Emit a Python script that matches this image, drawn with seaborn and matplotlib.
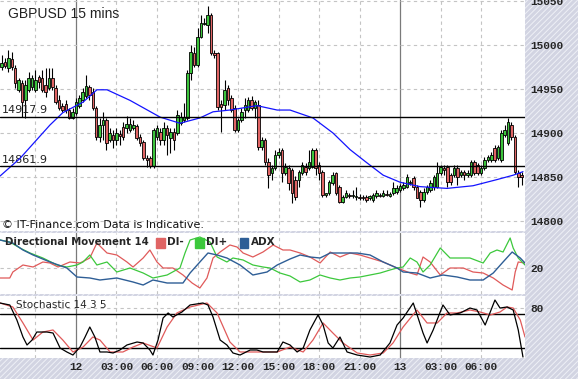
import numpy as np
import pandas as pd
import matplotlib
matplotlib.use("Agg")
import matplotlib.pyplot as plt
import seaborn as sns
from matplotlib.patches import Rectangle

sns.set_theme(style="white")
plt.rcParams['font.family'] = ['DejaVu Sans']
plt.rcParams['hatch.linewidth'] = 0.7

# 15-minute bars, counted from 00:00 on the 12th
first_bar = -22
opens = [14975, 14981, 14974, 14984, 14974, 14949, 14957, 14937, 14949, 14952, 14949, 14964, 14962, 14954, 14951, 14962,
         14951, 14937, 14931, 14933, 14926, 14917,
         14923, 14931, 14937, 14942, 14952, 14946, 14928, 14895, 14909, 14915, 14892, 14898,
         14892, 14899, 14907, 14906, 14903, 14906, 14908, 14895, 14890, 14872, 14872, 14862,
         14895, 14901, 14892, 14906, 14894, 14901, 14900, 14911, 14915, 14917, 14968, 14991,
         14977, 15009, 15024, 15023, 15034, 14991, 14991, 14933, 14932, 14951, 14940, 14928,
         14903, 14915, 14926, 14926, 14937, 14928, 14932, 14884, 14892, 14867, 14854, 14860,
         14875, 14881, 14854, 14860, 14858, 14847, 14847, 14854, 14861, 14860, 14861, 14881,
         14864, 14856, 14830, 14832, 14843, 14854, 14839, 14822, 14827, 14830, 14828, 14827,
         14827, 14827, 14827, 14826, 14824, 14828, 14830, 14828, 14831, 14828, 14832, 14833,
         14835, 14837, 14839, 14843, 14849, 14839, 14833, 14824, 14833, 14835, 14839, 14839,
         14854, 14860, 14861, 14852, 14852, 14860, 14852, 14856, 14852, 14852, 14867, 14864,
         14854, 14860, 14869, 14869, 14883, 14872, 14869, 14898, 14889, 14909, 14895, 14854, 14852]
closes = [14979, 14976, 14985, 14975, 14957, 14960, 14935, 14954, 14962, 14962, 14960, 14958, 14949, 14946, 14962, 14952,
          14935, 14928, 14926, 14926, 14917, 14924,
          14935, 14940, 14946, 14953, 14943, 14928, 14895, 14909, 14915, 14889, 14900, 14892,
          14900, 14896, 14895, 14910, 14910, 14909, 14894, 14889, 14872, 14869, 14862, 14903,
          14906, 14892, 14906, 14898, 14901, 14892, 14920, 14918, 14918, 14968, 14992, 14977,
          15009, 15025, 15025, 15034, 14991, 14989, 14929, 14929, 14949, 14937, 14926, 14903,
          14915, 14924, 14932, 14937, 14928, 14935, 14884, 14892, 14867, 14852, 14860, 14875,
          14878, 14854, 14861, 14843, 14832, 14827, 14856, 14864, 14856, 14867, 14881, 14860,
          14854, 14830, 14832, 14844, 14852, 14832, 14822, 14827, 14832, 14828, 14830, 14828,
          14826, 14826, 14824, 14828, 14830, 14832, 14828, 14832, 14830, 14831, 14837, 14837,
          14840, 14841, 14850, 14844, 14839, 14826, 14824, 14833, 14839, 14843, 14850, 14854,
          14861, 14858, 14844, 14844, 14860, 14850, 14856, 14852, 14854, 14867, 14854, 14854,
          14860, 14869, 14873, 14875, 14869, 14884, 14900, 14903, 14912, 14895, 14856, 14850, 14850]
highs = [14989, 14985, 14994, 14992, 14977, 14962, 14960, 14960, 14969, 14966, 14971, 14966, 14971, 14974, 14974, 14974,
         14954, 14943, 14934, 14937, 14928, 14928,
         14940, 14943, 14951, 14966, 14954, 14951, 14931, 14917, 14924, 14917, 14906, 14903,
         14906, 14903, 14912, 14919, 14917, 14915, 14910, 14899, 14892, 14875, 14874, 14906,
         14909, 14906, 14912, 14909, 14906, 14906, 14926, 14924, 14934, 14971, 15000, 14998,
         15019, 15034, 15031, 15044, 15036, 14994, 14992, 14937, 14960, 14954, 14943, 14932,
         14917, 14928, 14940, 14941, 14942, 14937, 14937, 14895, 14894, 14872, 14864, 14881,
         14883, 14883, 14866, 14864, 14860, 14851, 14858, 14867, 14866, 14881, 14883, 14883,
         14867, 14858, 14832, 14847, 14856, 14856, 14841, 14830, 14835, 14832, 14835, 14839,
         14831, 14830, 14830, 14830, 14832, 14835, 14832, 14835, 14835, 14833, 14844, 14841,
         14842, 14844, 14853, 14847, 14851, 14841, 14835, 14837, 14841, 14847, 14852, 14867,
         14864, 14864, 14864, 14854, 14864, 14864, 14858, 14858, 14858, 14869, 14869, 14866,
         14864, 14873, 14875, 14878, 14886, 14886, 14903, 14909, 14917, 14912, 14898, 14858, 14856]
lows = [14971, 14974, 14969, 14971, 14951, 14946, 14918, 14917, 14946, 14949, 14946, 14951, 14946, 14941, 14949, 14949,
        14933, 14926, 14924, 14923, 14916, 14916,
        14920, 14928, 14935, 14940, 14937, 14926, 14892, 14890, 14892, 14881, 14890, 14883,
        14886, 14886, 14892, 14900, 14901, 14903, 14892, 14885, 14869, 14861, 14860, 14860,
        14892, 14886, 14886, 14875, 14877, 14881, 14898, 14909, 14912, 14915, 14960, 14975,
        14975, 15008, 15023, 15014, 14989, 14985, 14926, 14901, 14926, 14932, 14924, 14901,
        14901, 14912, 14917, 14924, 14926, 14917, 14881, 14881, 14864, 14837, 14847, 14858,
        14872, 14844, 14852, 14835, 14820, 14824, 14839, 14852, 14852, 14858, 14860, 14852,
        14847, 14827, 14827, 14830, 14841, 14830, 14820, 14820, 14826, 14826, 14826, 14824,
        14824, 14824, 14822, 14824, 14822, 14826, 14827, 14827, 14828, 14827, 14830, 14831,
        14833, 14835, 14837, 14841, 14835, 14826, 14816, 14822, 14831, 14833, 14835, 14837,
        14852, 14852, 14839, 14841, 14850, 14841, 14850, 14847, 14850, 14850, 14852, 14852,
        14852, 14858, 14867, 14867, 14867, 14869, 14867, 14895, 14886, 14892, 14853, 14839, 14841]

ma_bars = [-22.5, -16.6, -7.7, -3.9, 2.1, 6.2, 9.2, 16, 24.9, 30.8, 36.7, 40.6, 45.6, 53.6, 59.6,
           63.4, 70.2, 76.1, 81.2, 86.2, 91, 96, 101.9, 109.9, 117.6, 124.7, 129.5, 132.4]
ma_values = [14851, 14871, 14909, 14923, 14935, 14949, 14949, 14937, 14918, 14911, 14917, 14924, 14926, 14931, 14926,
             14926, 14917, 14900, 14881, 14866, 14852, 14844, 14839, 14837, 14840, 14847, 14852, 14856]

level_high = 14917.9
level_low = 14861.9

dim_bars = [-22.5, -19.6, -18.7, -15.7, -12.7, -9.8, -7.7, -5.3, -1.8, 1.2, 4.1, 6.2, 9.2, 12.1, 15.1, 16.9, 19.9, 21.9, 24, 25.8,
            28.7, 31.7, 34.4, 36.7, 38.8, 40.6, 42.7, 45.6, 47.7, 49.5, 52.4, 55.4, 58.4, 61.3, 63.4, 66.4, 69.3, 72.3, 75.3,
            78.2, 81.2, 84.1, 87.1, 91, 95.1, 99, 101, 102.8, 104.9, 107.9, 110.8, 114.7, 117.6, 120.6, 123.6, 126.5, 129.2,
            130.1, 131, 133]
dim_values = [16, 16, 18.4, 21.2, 20.4, 22.4, 22, 20.4, 22.4, 22, 24, 30, 26, 25.2, 22.4, 20.4, 24, 27.2, 22.4, 20,
              20, 17.2, 14, 12, 16, 24, 26.4, 29.2, 28.4, 26, 24.4, 26.4, 29.2, 27.2, 27.2, 26, 24.4, 22, 26.4,
              24.4, 26, 25.2, 24, 22.4, 20, 18, 17.2, 24.4, 22.4, 17.2, 20, 20, 18.4, 18, 16, 13.2, 11.2,
              18.4, 22.4, 22]

dip_bars = [-22.5, -19.6, -16.6, -13.6, -9.8, -5.6, -2.7, 0.3, 2.1, 4.1, 6.2, 9.2, 12.1, 16, 19.9, 22.8, 27, 30.8, 32.3,
            33.8, 36.7, 39.7, 41.8, 44.7, 46.5, 49.5, 52.4, 55.4, 57.5, 60.4, 63.4, 66.4, 69.3, 72.3, 75.3, 78.2, 81.2,
            84.1, 87.1, 90.1, 93, 95.1, 96.9, 99, 101, 102.8, 104.9, 107.9, 110.8, 113.8, 116.7, 120.6, 122.7, 124.7,
            126.5, 128.6, 129.5, 131, 133]
dip_values = [31.2, 30.4, 28, 26, 24, 21.2, 20.4, 21.2, 22.4, 25.2, 21.2, 22.4, 18.4, 20, 18, 16, 17.2, 20, 26,
              31.2, 32.4, 30.4, 24.4, 22.4, 24, 23.2, 21.2, 20.4, 20, 18, 16.8, 14.4, 15.2, 17.2, 16, 15.2, 16,
              16.4, 17.2, 18, 19.2, 20, 20.4, 24, 22.4, 18.4, 21.2, 28, 24, 24, 24, 22, 26, 27.2,
              26.4, 32, 28, 24, 21.2]

adx_bars = [-22.5, -18.7, -15.7, -12.7, -7.7, -2.7, 0.3, 4.1, 7.1, 12.1, 16.9, 19.9, 22.8, 27, 31.7, 33.8, 36.7, 39.1,
            41.8, 44.7, 48.6, 52.4, 56.6, 59.6, 63.4, 66.4, 69.3, 72.3, 75.3, 79.1, 83.3, 87.1, 91, 95.1, 96.9, 101,
            104.9, 108.7, 112.9, 116.7, 120.6, 123.6, 126.5, 129.2, 131.6, 133]
adx_values = [31.2, 30, 27.2, 25.2, 22.4, 20, 16.4, 16, 15.2, 16, 14.4, 13.2, 15.2, 14, 14, 18, 22.4, 26,
              25.2, 24, 21.2, 17.2, 18.4, 21.2, 23.6, 25.2, 24.4, 24, 26, 26, 26, 25.2, 22.4, 20, 18.4, 18,
              16, 17.2, 16.4, 15.2, 15.2, 18, 22.4, 26.4, 24, 22]

k_bars = [-22.5, -19.6, -17.5, -15.7, -14.5, -13, -11.6, -8.6, -6.8, -4.7, -2.7, -0.9, 1.2, 2.7, 4.1, 5.6, 7.1, 9.2, 11,
          13, 15.1, 18.1, 19.9, 21.9, 22.8, 24.3, 25.8, 27.3, 28.7, 31.4, 33.8, 37.6, 39.1, 40.6, 42.7, 44.7, 46.5,
          48.6, 51.6, 53.6, 55.4, 59.6, 61.3, 63.4, 65.5, 67.3, 69.3, 71.7, 73.2, 74.7, 76.1, 78.2, 80.3, 83.3, 87.1,
          90.1, 93, 95.1, 96.9, 99.9, 102.8, 104, 105.8, 108.7, 110.8, 113.8, 116.7, 118.8, 121.2, 124.1, 125.6,
          127.7, 129.5, 131, 132.4]
k_values = [88.7, 85.5, 61.3, 33.9, 21, 29, 41.9, 41.9, 40.3, 16.1, 9.7, 4.8, 17.7, 33.9, 50, 33.9, 9.7, 9.7, 8.1,
            12.9, 21, 25.8, 24.2, 12.9, 4.8, 29, 64.5, 72.6, 66.1, 74.2, 85.5, 88.7, 85.5, 66.1, 29, 21, 8.1,
            4.8, 12.9, 12.9, 9.7, 9.7, 25.8, 21, 9.7, 16.1, 45.2, 69.4, 53.2, 24.2, 16.1, 33.9, 9.7, 4.8, 1.6,
            4.8, 24.2, 53.2, 64.5, 88.7, 40.3, 24.2, 45.2, 85.5, 69.4, 72.6, 80.6, 77.4, 53.2, 93.5, 80.6,
            82.3, 77.4, 45.2, 1.6]

d_bars = [-22.5, -18.7, -15.7, -12.7, -9.8, -6.8, -3.9, -0.9, 2.1, 5, 7.1, 10.1, 13.9, 16.9, 19.9, 24, 27, 29.9, 33.8,
          38.8, 41.8, 45.6, 48.6, 52.4, 56.6, 59.6, 63.4, 67.3, 70.2, 73.2, 76.1, 79.1, 83.3, 87.1, 91, 93.9, 96.9,
          101, 104, 107, 109.9, 112.9, 116.7, 119.7, 122.7, 125.6, 127.7, 129.5, 131.6, 133]
d_values = [88.7, 82.3, 56.5, 29, 41.9, 45.2, 29, 9.7, 17.7, 33.9, 29, 9.7, 9.7, 17.7, 24.2, 16.1, 50, 72.6, 82.3,
            88.7, 72.6, 25.8, 9.7, 9.7, 9.7, 9.7, 17.7, 9.7, 29, 56.5, 40.3, 24.2, 8.1, 4.8, 8.1, 24.2, 50,
            77.4, 56.5, 56.5, 72.6, 72.6, 77.4, 74.2, 69.4, 74.2, 82.3, 80.6, 61.3, 33.9]

tick_bars = [0, 12, 24, 36, 48, 60, 72, 84, 96, 108, 120]
tick_labels = ['12', '03:00', '06:00', '09:00', '12:00', '15:00', '18:00', '21:00', '13', '03:00', '06:00']
grid_bars = [-12] + tick_bars
day_bars = [0, 96]
price_ticks = [14800, 14850, 14900, 14950, 15000, 15050]

candles = pd.DataFrame({'bar': np.arange(first_bar, first_bar + len(closes)),
                        'open': opens, 'high': highs, 'low': lows, 'close': closes})
candles['up'] = candles['close'] >= candles['open']

green = '#3cc43c'
red = '#e06464'
grid_col = '#c4c4c4'
mono = {'family': 'Liberation Mono', 'weight': 'bold', 'size': 8}

fig = plt.figure(figsize=(5.78, 3.79), dpi=100)
fig.patches.append(Rectangle((0, 0), 1, 1, transform=fig.transFigure, facecolor='#d2d4e2',
                             edgecolor='#eef0f6', hatch='//////', lw=0, zorder=-10))

W, H = 578, 379
def place(top, bottom):
    return [0, 1 - bottom / H, 525 / W, (bottom - top) / H]

ax = fig.add_axes(place(0, 231))
ax_dm = fig.add_axes(place(233, 294), sharex=ax)
ax_st = fig.add_axes(place(296, 358), sharex=ax)

for a in (ax, ax_dm, ax_st):
    a.set_facecolor('white')
    for s in a.spines.values():
        s.set_visible(False)
    for b in grid_bars:
        if b in day_bars:
            a.axvline(b, color='#7a7a7a', lw=0.9, zorder=0)
        else:
            a.axvline(b, color=grid_col, lw=0.8, ls=(0, (3, 3)), zorder=0)
    a.yaxis.tick_right()
    a.tick_params(axis='both', length=0, pad=4)

# price panel
for p in price_ticks:
    ax.axhline(p, color=grid_col, lw=0.8, ls=(0, (3, 3)), zorder=0)
ax.vlines(candles['bar'], candles['low'], candles['high'], color='black', lw=0.8, zorder=2)
body = (candles['close'] - candles['open']).where(lambda s: s.abs() > 0.8, 0.8)
ax.bar(candles['bar'], body, bottom=candles['open'], width=0.75,
       color=np.where(candles['up'], green, red), edgecolor='black', linewidth=0.6, zorder=3)
sns.lineplot(x=ma_bars, y=ma_values, ax=ax, color='#1414ff', lw=0.9, zorder=4)
ax.axhline(level_high, color='black', lw=1, zorder=5)
ax.axhline(level_low, color='black', lw=1, zorder=5)
ax.text(-22, level_high + 2, f'{level_high}', fontsize=8, va='bottom', ha='left', color='#222222')
ax.text(-22, level_low + 2, f'{level_low}', fontsize=8, va='bottom', ha='left', color='#222222')
ax.text(0.015, 0.94, 'GBPUSD 15 mins', transform=ax.transAxes, fontsize=10,
        family='Liberation Sans', color='#222222', va='center')
ax.text(0.004, 0.025, '\u00a9 IT-Finance.com Data is Indicative.', transform=ax.transAxes,
        fontsize=8, color='#111111', va='center')
ax.set_ylim(14788.6, 15051)
ax.set_yticks(price_ticks)
ax.set_yticklabels([str(p) for p in price_ticks], fontdict=mono)
ax.set_xlim(-22.5, 133)
ax.tick_params(axis='x', labelbottom=False)

# directional movement panel
ax_dm.axhline(20, color=grid_col, lw=0.8, ls=(0, (3, 3)), zorder=0)
sns.lineplot(x=dim_bars, y=dim_values, ax=ax_dm, color='#e05a5a', lw=0.9)
sns.lineplot(x=dip_bars, y=dip_values, ax=ax_dm, color='#3cc83c', lw=0.9)
sns.lineplot(x=adx_bars, y=adx_values, ax=ax_dm, color='#2e5e96', lw=1.0)
ax_dm.set_ylim(9.6, 34)
ax_dm.set_yticks([20])
ax_dm.set_yticklabels(['20'], fontdict=mono)
ax_dm.tick_params(axis='x', labelbottom=False)
ax_dm.text(0.01, 0.86, 'Directional Movement 14', transform=ax_dm.transAxes, fontsize=7.3,
           weight='bold', va='center', zorder=6)
for xf, col, name in [(0.298, '#e06464', 'DI-'), (0.372, '#3cc83c', 'DI+'), (0.457, '#2e5e96', 'ADX')]:
    ax_dm.add_patch(Rectangle((xf, 0.76), 0.016, 0.16, transform=ax_dm.transAxes, color=col, zorder=6))
    ax_dm.text(xf + 0.021, 0.86, name, transform=ax_dm.transAxes, fontsize=7.5, weight='bold',
               va='center', zorder=6)

# stochastic panel
ax_st.axhline(80, color=grid_col, lw=0.8, ls=(0, (3, 3)), zorder=0)
ax_st.axhline(71, color='black', lw=1, zorder=1)
ax_st.axhline(16, color='black', lw=1, zorder=1)
sns.lineplot(x=d_bars, y=d_values, ax=ax_st, color='#e05a5a', lw=0.9)
sns.lineplot(x=k_bars, y=k_values, ax=ax_st, color='black', lw=0.9)
ax_st.set_ylim(0, 100)
ax_st.set_yticks([80])
ax_st.set_yticklabels(['80'], fontdict=mono)
ax_st.text(0.03, 0.86, 'Stochastic 14 3 5', transform=ax_st.transAxes, fontsize=7.5,
           va='center', zorder=6)
ax_st.set_xticks(tick_bars)
ax_st.set_xticklabels(tick_labels, fontdict=mono)
ax_st.tick_params(axis='x', pad=3)

for a in (ax, ax_dm, ax_st):
    a.set_xlabel('')
    a.set_ylabel('')

fig.savefig('out.png', dpi=100)
